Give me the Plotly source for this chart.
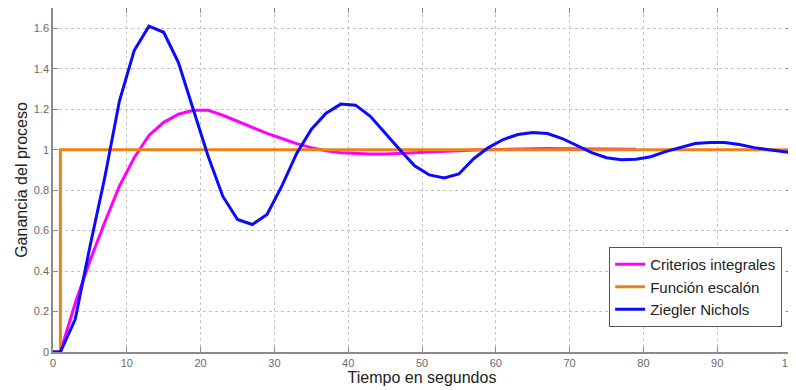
import plotly.graph_objects as go

# Time samples (seconds)
t_zn = [0, 1, 3, 5, 7, 9, 11, 13, 15, 17, 19, 21, 23, 25, 27, 29, 31, 33, 35, 37, 39,
        41, 43, 45, 47, 49, 51, 53, 55, 57, 59, 61, 63, 65, 67, 69, 71, 73, 75, 77, 79,
        81, 83, 85, 87, 89, 91, 93, 95, 97, 99, 100]
ziegler_nichols = [0, 0, 0.16, 0.52, 0.86, 1.24, 1.49, 1.61, 1.58, 1.43, 1.20, 0.97,
                   0.77, 0.655, 0.63, 0.68, 0.82, 0.98, 1.10, 1.18, 1.225, 1.22, 1.165,
                   1.08, 1.0, 0.92, 0.875, 0.86, 0.88, 0.955, 1.01, 1.05, 1.075, 1.085,
                   1.08, 1.055, 1.02, 0.985, 0.96, 0.95, 0.953, 0.965, 0.99, 1.01, 1.03,
                   1.035, 1.035, 1.025, 1.01, 1.0, 0.99, 0.985]

t_ci = [0, 1, 3, 5, 7, 9, 11, 13, 15, 17, 19, 21, 23, 25, 27, 29, 31, 33, 35, 37, 39,
        41, 43, 45, 47, 49, 51, 53, 55, 57, 59, 61, 63, 65, 67, 69, 71, 73, 75, 77, 79]
criterios_integrales = [0, 0, 0.24, 0.45, 0.64, 0.82, 0.96, 1.07, 1.135, 1.175, 1.195,
                        1.195, 1.17, 1.14, 1.11, 1.08, 1.055, 1.03, 1.01, 0.995, 0.985,
                        0.98, 0.978, 0.978, 0.98, 0.985, 0.988, 0.99, 0.995, 0.998, 1.0,
                        1.003, 1.005, 1.006, 1.006, 1.005, 1.005, 1.004, 1.003, 1.003,
                        1.002]

t_step = [0, 1, 1, 100]
escalon = [0, 0, 1, 1]

x_ticks = [0, 10, 20, 30, 40, 50, 60, 70, 80, 90, 100]
y_ticks = [0, 0.2, 0.4, 0.6, 0.8, 1, 1.2, 1.4, 1.6]
y_tick_labels = ["0", "0.2", "0.4", "0.6", "0.8", "1", "1.2", "1.4", "1.6"]

FONT = "Liberation Sans, Arial, sans-serif"

fig = go.Figure()
fig.add_trace(go.Scatter(x=t_ci, y=criterios_integrales, mode="lines",
                         name="Criterios integrales",
                         line=dict(color="#ff00ff", width=3)))
fig.add_trace(go.Scatter(x=t_step, y=escalon, mode="lines",
                         name="Función escalón",
                         line=dict(color="#eb8214", width=3)))
fig.add_trace(go.Scatter(x=t_zn, y=ziegler_nichols, mode="lines",
                         name="Ziegler Nichols",
                         line=dict(color="#0a0aff", width=3)))

axis_common = dict(
    showline=True, linecolor="#8a8a8a", linewidth=1.5, mirror="allticks",
    ticks="inside", ticklen=5, tickcolor="#8a8a8a", tickwidth=1,
    showgrid=True, gridcolor="#c4c4c4", griddash="dot", gridwidth=1,
    zeroline=False, automargin=False, ticklabeloverflow="allow",
    tickfont=dict(family=FONT, size=11, color="#6a6a6a"),
)

fig.update_xaxes(range=[0, 100], tickvals=x_ticks, ticktext=[str(v) for v in x_ticks],
                 title=dict(text="Tiempo en segundos", standoff=2,
                            font=dict(family=FONT, size=16, color="#222222")),
                 **axis_common)
fig.update_yaxes(range=[0, 1.7], tickvals=y_ticks, ticktext=y_tick_labels,
                 title=dict(text="Ganancia del proceso", standoff=2,
                            font=dict(family=FONT, size=16, color="#222222")),
                 **axis_common)

# the page body adds an 8px offset, so the figure is sized to fit inside it
fig.update_layout(
    width=788, height=382,
    margin=dict(l=45, r=5, t=0, b=38),
    plot_bgcolor="white", paper_bgcolor="white",
    showlegend=True,
    legend=dict(x=0.988, y=0.305, xanchor="right", yanchor="top",
                bgcolor="white", bordercolor="#555555", borderwidth=1,
                font=dict(family=FONT, size=15, color="#222222"),
                itemwidth=30, tracegroupgap=0, entrywidth=146,
                entrywidthmode="pixels"),
)

fig.write_html("out.html")
